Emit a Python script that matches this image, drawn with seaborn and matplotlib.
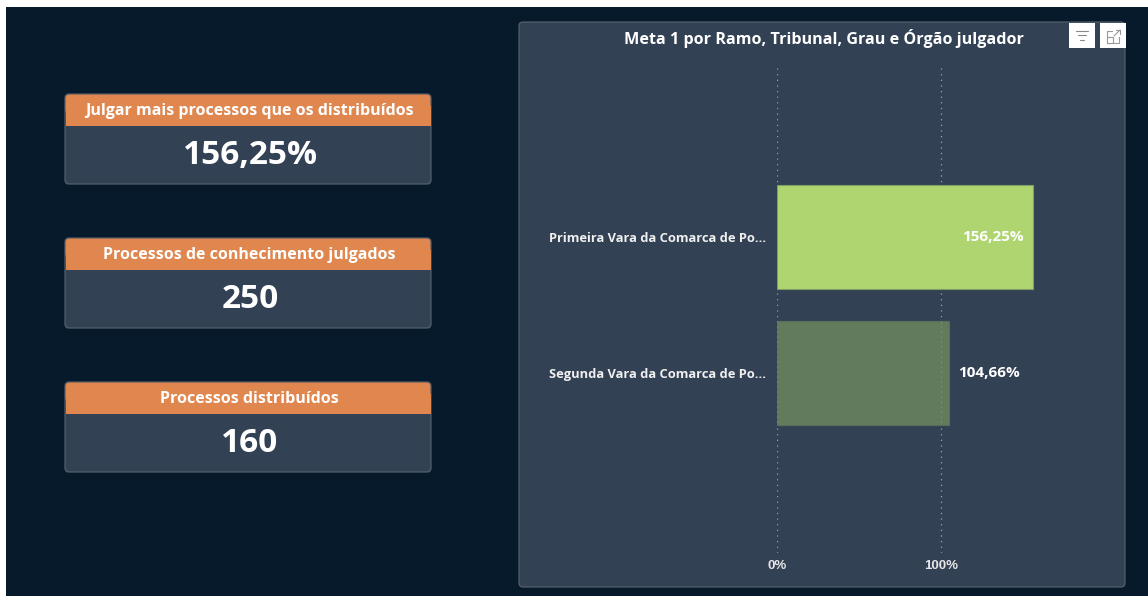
import pandas as pd
import matplotlib
matplotlib.use('Agg')
import matplotlib.pyplot as plt
from matplotlib.patches import FancyBboxPatch, Rectangle
import seaborn as sns

# --- data ---
card_titles = ['Julgar mais processos que os distribuídos', 'Processos de conhecimento julgados', 'Processos distribuídos']
card_values = ['156,25%', '250', '160']
orgaos = ['Primeira Vara da Comarca de Po...', 'Segunda Vara da Comarca de Po...']
meta1 = [156.25, 104.66]
meta1_labels = ['156,25%', '104,66%']
x_ticks = [0, 100]
x_tick_labels = ['0%', '100%']

# --- style ---
BG = '#071a2b'
PANEL = '#334155'
EDGE = '#596270'
ORANGE = '#e0874f'
bar_colors = ['#afd571', '#637b5d']
bar_edges = ['#7f9e63', '#56705a']

sns.set_theme(style='white')
plt.rcParams['font.family'] = ['Open Sans', 'DejaVu Sans']
W, H = 1148, 596
fig = plt.figure(figsize=(W / 100, H / 100), dpi=100, facecolor='white')

# background layer in pixel coordinates (y goes down like the screenshot)
bg = fig.add_axes([0, 0, 1, 1])
bg.set_xlim(0, W)
bg.set_ylim(H, 0)
bg.axis('off')
bg.add_patch(Rectangle((6, 7), W - 6, H - 7, facecolor=BG, edgecolor='none'))


def rounded(x0, y0, x1, y1, face, edge='none', lw=1.0, r=4):
    return FancyBboxPatch((x0 + r, y0 + r), x1 - x0 - 2 * r, y1 - y0 - 2 * r,
                          boxstyle=f'round,pad={r},rounding_size={r}',
                          facecolor=face, edgecolor=edge, linewidth=lw)


# KPI cards
card_tops = [94, 238, 382]
for top, title, value in zip(card_tops, card_titles, card_values):
    bg.add_patch(rounded(65, top, 431, top + 90, PANEL, EDGE, lw=0.8))
    bg.add_patch(rounded(65.5, top + 0.5, 430.5, top + 20, ORANGE))
    bg.add_patch(Rectangle((65.5, top + 12), 365, 19.5, facecolor=ORANGE, edgecolor='none'))
    bg.text(249.5, top + 17, title, color='white', fontsize=11.5, fontweight='bold', ha='center', va='center')
    bg.text(250, top + 61, value, color='white', fontsize=24, fontweight='bold', ha='center', va='center')

# chart panel
bg.add_patch(rounded(519, 22, 1125, 587, PANEL, EDGE, lw=0.8))
bg.text(823.5, 38, 'Meta 1 por Ramo, Tribunal, Grau e Órgão julgador', color='white',
        fontsize=11.6, fontweight='bold', ha='center', va='center')

# the two white header buttons
bg.add_patch(Rectangle((1069, 23), 26, 25, facecolor='white', edgecolor='none'))
bg.add_patch(Rectangle((1100, 23), 26, 25, facecolor='white', edgecolor='none'))
for half, y in zip([6, 4, 2], [30.5, 35, 39.5]):
    bg.plot([1082 - half, 1082 + half], [y, y], color='#888888', lw=0.8)
bg.add_patch(Rectangle((1106.5, 31), 12, 12, facecolor='none', edgecolor='#999999', lw=0.8))
bg.add_patch(Rectangle((1106.5, 37), 6, 6, facecolor='white', edgecolor='#999999', lw=0.8))
bg.add_patch(Rectangle((1113, 28.5), 8, 8, facecolor='white', edgecolor='none'))
bg.plot([1114, 1120], [36, 30], color='#999999', lw=0.8)
bg.plot([1116, 1120, 1120], [30, 30, 34], color='#999999', lw=0.8)

# bar chart, axes box placed so 0% and 100% land on the reference gridlines
ax_left, ax_right, ax_top, ax_bottom = 777, 1115, 65, 553
ax = fig.add_axes([ax_left / W, 1 - ax_bottom / H, (ax_right - ax_left) / W, (ax_bottom - ax_top) / H])
ax.patch.set_alpha(0)

df = pd.DataFrame({'Orgao': orgaos, 'Meta1': meta1})
sns.barplot(data=df, x='Meta1', y='Orgao', hue='Orgao', palette=bar_colors, legend=False,
            width=0.765, saturation=1, ax=ax, zorder=2)
for patch, edge in zip(ax.patches, bar_edges):
    patch.set_edgecolor(edge)
    patch.set_linewidth(0.8)

ax.set_xlim(0, (ax_right - ax_left) / 1.64)
ax.set_ylim(1 + (ax_bottom - 373) / 136, -(237 - ax_top) / 136)
ax.set_xlabel('')
ax.set_ylabel('')
sns.despine(ax=ax, left=True, bottom=True)

ax.set_xticks(x_ticks)
ax.set_xticklabels(x_tick_labels)
ax.tick_params(axis='x', length=0, pad=5, labelsize=9.5, labelcolor='#e6e6e6')
ax.tick_params(axis='y', length=0, pad=8, labelsize=9.3, labelcolor='#f0f0f0')
for lab in ax.get_xticklabels() + ax.get_yticklabels():
    lab.set_fontweight('bold')
for lab in ax.get_xticklabels():
    lab.set_family('Liberation Sans')

# dotted gridlines, faintly visible through the dim bar
for tick in x_ticks:
    ax.axvline(tick, color='#9aa3ad', lw=0.9, ls=(0, (1, 3.5)), zorder=1)
    ax.plot([tick, tick], [0.62, 1.38], color='#9aa3ad', lw=0.8, ls=(0, (1, 3.5)), zorder=3, alpha=0.6)

# value labels: inside the first bar, outside the second
ax.text(meta1[0] - 6, 0.0, meta1_labels[0], color='white', fontsize=11, fontweight='bold', ha='right', va='center', zorder=4)
ax.text(meta1[1] + 6, 1.0, meta1_labels[1], color='white', fontsize=11, fontweight='bold', ha='left', va='center', zorder=4)

fig.savefig('out.png', dpi=100, facecolor=fig.get_facecolor())
